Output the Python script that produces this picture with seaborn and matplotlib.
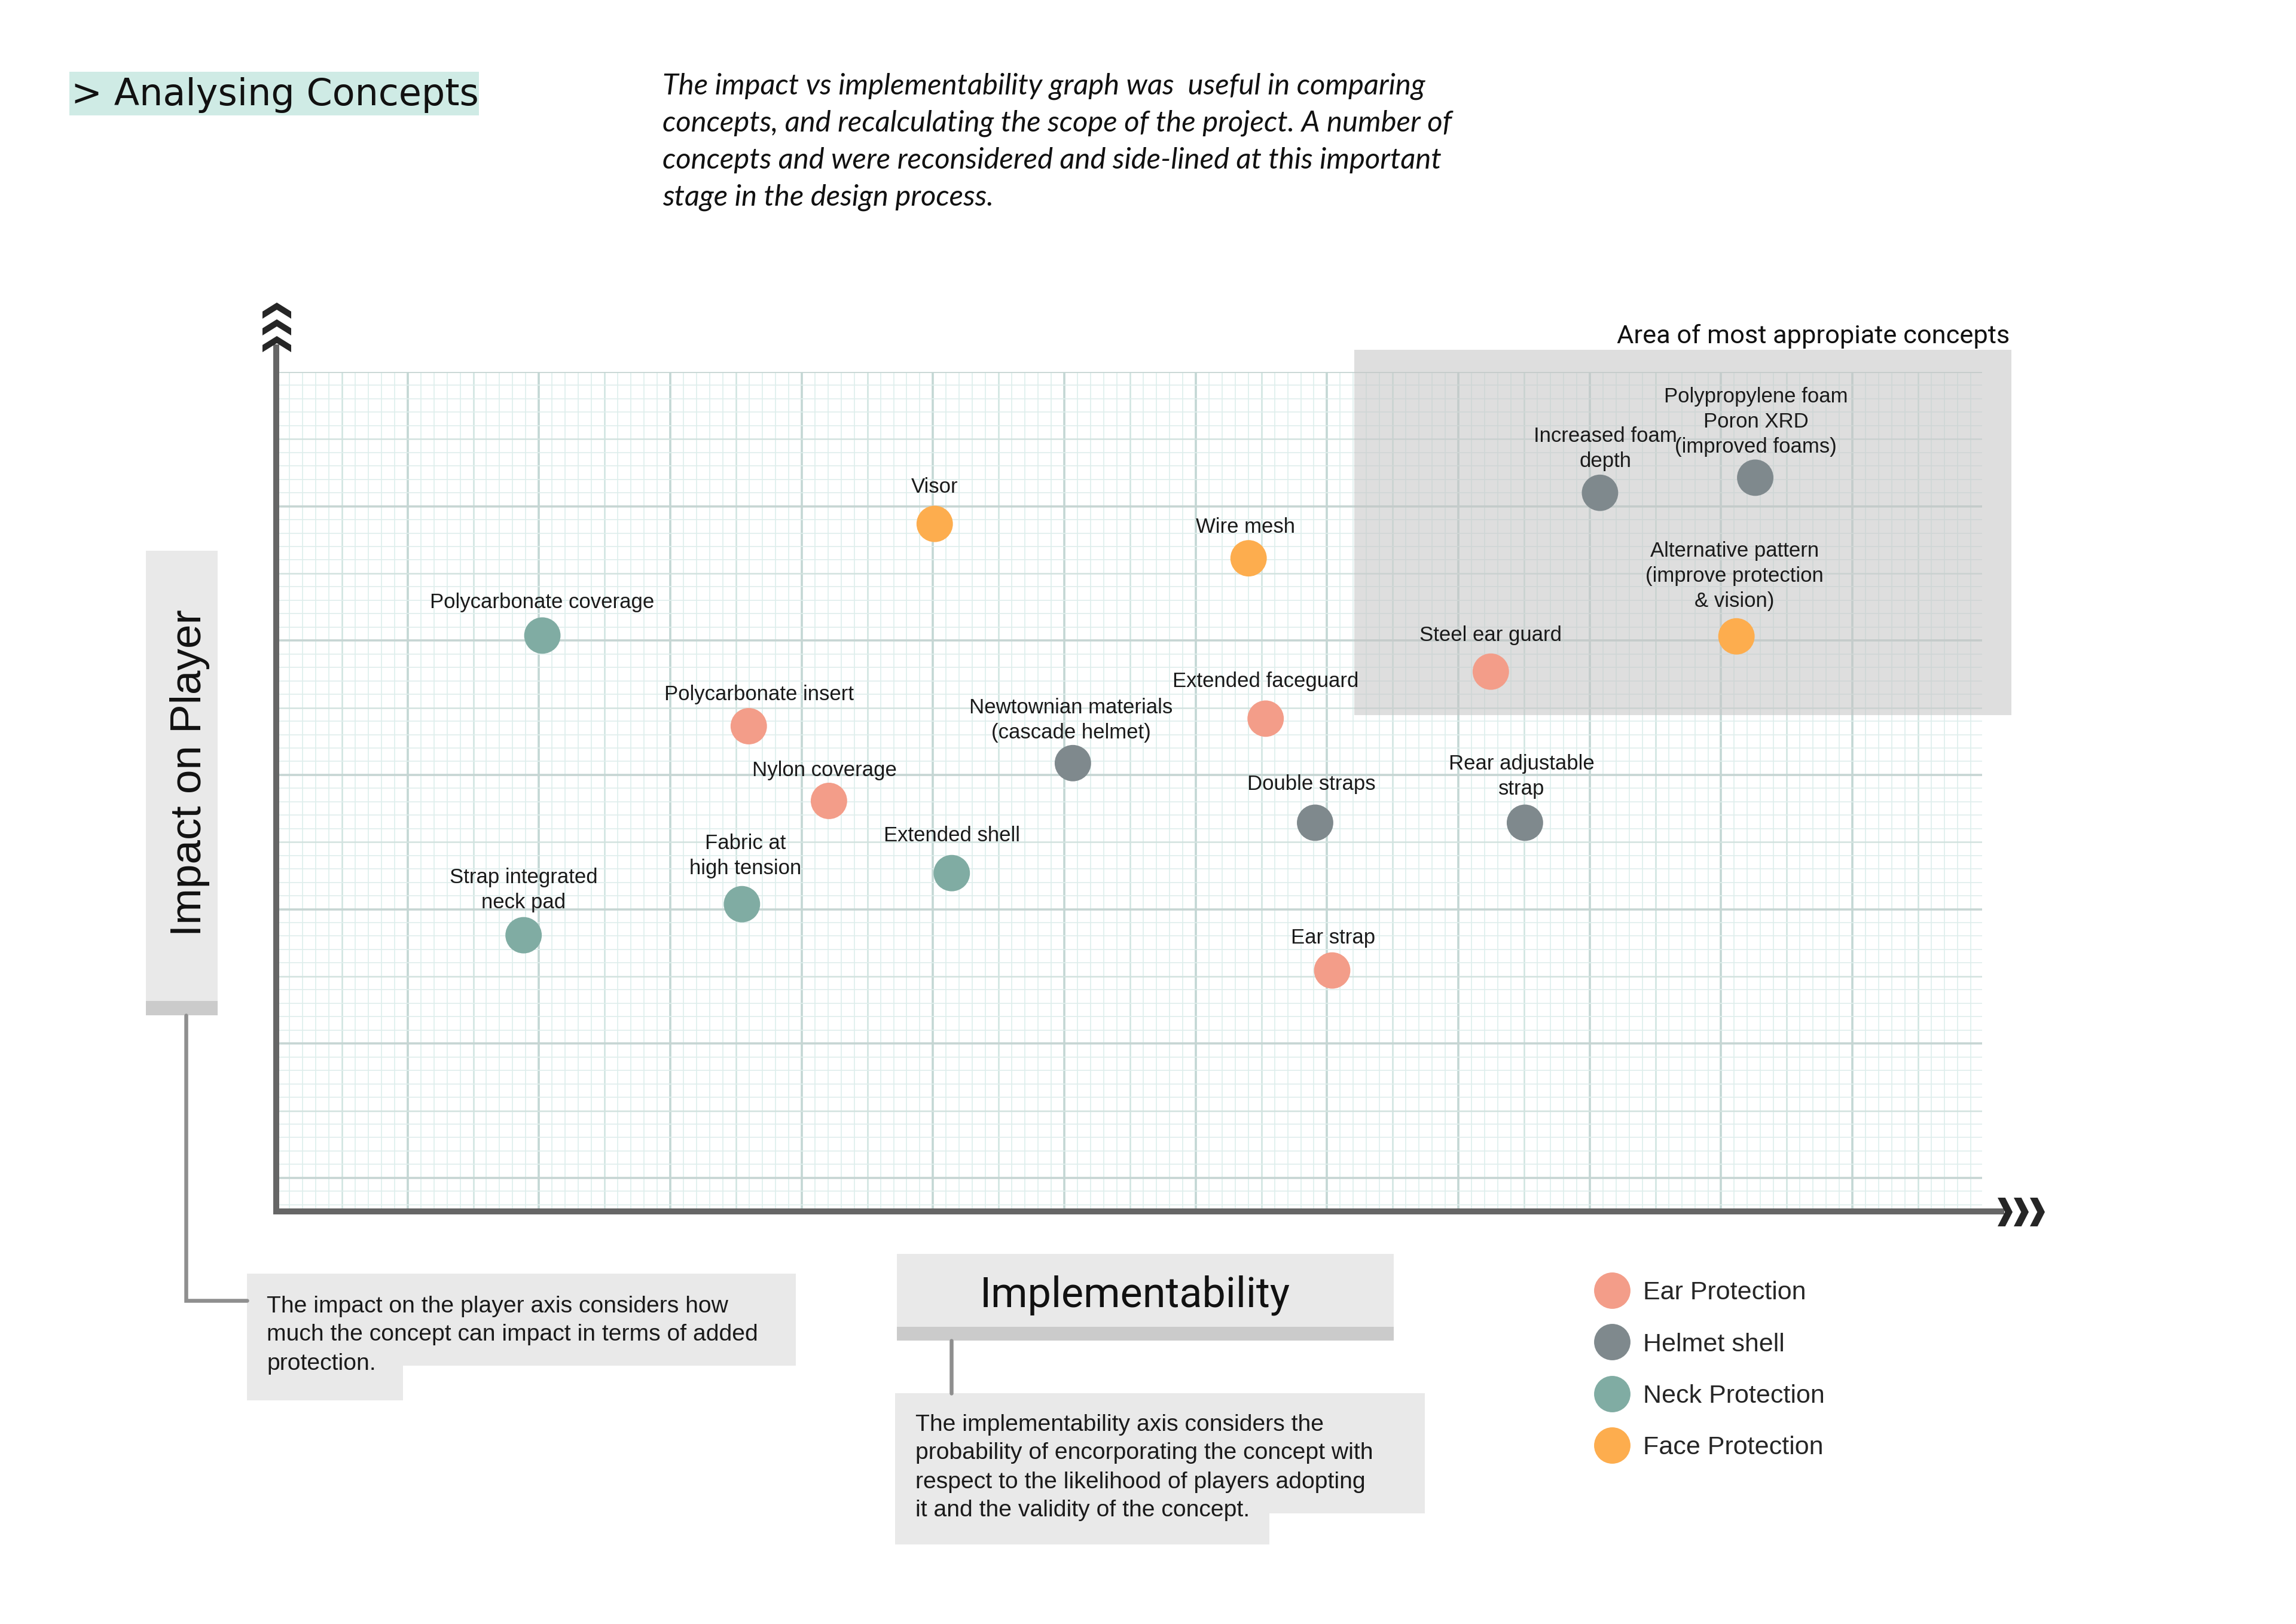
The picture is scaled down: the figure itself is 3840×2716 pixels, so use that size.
import matplotlib
matplotlib.use("Agg")
import matplotlib.pyplot as plt
import numpy as np
import pandas as pd
import seaborn as sns
from matplotlib import font_manager
from matplotlib.patches import Rectangle

# Concepts: implementability (x) vs impact on player (y), both on a 0-100 scale
concepts = [
    "Visor",
    "Wire mesh",
    "Alternative pattern\n(improve protection\n& vision)",
    "Polycarbonate coverage",
    "Strap integrated\nneck pad",
    "Fabric at\nhigh tension",
    "Extended shell",
    "Polycarbonate insert",
    "Nylon coverage",
    "Extended faceguard",
    "Steel ear guard",
    "Ear strap",
    "Newtownian materials\n(cascade helmet)",
    "Double straps",
    "Rear adjustable\nstrap",
    "Increased foam\ndepth",
    "Polypropylene foam\nPoron XRD\n(improved foams)",
]
category = [
    "Face Protection", "Face Protection", "Face Protection",
    "Neck Protection", "Neck Protection", "Neck Protection", "Neck Protection",
    "Ear Protection", "Ear Protection", "Ear Protection", "Ear Protection", "Ear Protection",
    "Helmet shell", "Helmet shell", "Helmet shell", "Helmet shell", "Helmet shell",
]
implementability = [38.6, 57.0, 85.6, 15.6, 14.5, 27.3, 39.6, 27.7, 32.4, 58.0,
                    71.2, 61.9, 46.7, 60.9, 73.2, 77.6, 86.7]
impact = [81.9, 77.8, 68.5, 68.6, 32.9, 36.6, 40.3, 57.8, 48.9, 58.7,
          64.3, 28.7, 53.4, 46.3, 46.3, 85.6, 87.4]

CATEGORIES = ["Ear Protection", "Helmet shell", "Neck Protection", "Face Protection"]
PALETTE = {"Ear Protection": "#f39d89", "Helmet shell": "#7f898d",
           "Neck Protection": "#80aca3", "Face Protection": "#fdad4e"}

# label nudges in output pixels: (dx, baseline gap above the dot)
LABEL_NUDGE = {
    "Visor": (0, 52), "Wire mesh": (-5, 43), "Polycarbonate insert": (17, 43),
    "Nylon coverage": (-7, 41), "Newtownian materials\n(cascade helmet)": (-3, 41),
    "Extended faceguard": (0, 53), "Double straps": (-6, 55), "Extended shell": (0, 53),
    "Fabric at\nhigh tension": (6, 50), "Strap integrated\nneck pad": (0, 45),
    "Polycarbonate coverage": (0, 46), "Increased foam\ndepth": (9, 43),
    "Polypropylene foam\nPoron XRD\n(improved foams)": (1, 42),
    "Alternative pattern\n(improve protection\n& vision)": (-3, 49),
    "Steel ear guard": (0, 51), "Rear adjustable\nstrap": (-6, 47), "Ear strap": (2, 45),
}

title_text = "> Analysing Concepts"
intro_lines = [
    "The impact vs implementability graph was  useful in comparing",
    "concepts, and recalculating the scope of the project. A number of",
    "concepts and were reconsidered and side-lined at this important",
    "stage in the design process.",
]
impact_note = [
    "The impact on the player axis considers how",
    "much the concept can impact in terms of added",
    "protection.",
]
impl_note = [
    "The implementability axis considers the",
    "probability of encorporating the concept with",
    "respect to the likelihood of players adopting",
    "it and the validity of the concept.",
]

DPI = 200
PX = 72 / DPI  # points per output pixel

sns.set_theme(style="white")
names = {f.name for f in font_manager.fontManager.ttflist}
NARROW = "Liberation Sans Narrow" if "Liberation Sans Narrow" in names else "Liberation Sans"
plt.rcParams["font.family"] = ["Liberation Sans", "DejaVu Sans"]

fig = plt.figure(figsize=(3840 / DPI, 2716 / DPI), dpi=DPI)
renderer = fig.canvas.get_renderer()

# main chart axes (graph paper area)
ax = fig.add_axes([462 / 3840, 1 - 2026 / 2716, 2853 / 3840, 1404 / 2716])
ax.set_xlim(0, 100)
ax.set_ylim(0, 100)
ax.set_axis_off()

# graph paper grid
gx = np.arange(131) * 0.77
gy = 100 - np.arange(63) * 1.6
for k, xv in enumerate(gx):
    if k % 10 == 0:
        c, w = "#c3d7d4", 1.3
    elif k % 5 == 0:
        c, w = "#cfe4e0", 0.9
    else:
        c, w = "#ddefec", 0.6
    ax.vlines(xv, 0, 100, color=c, lw=w, zorder=0.5)
for k, yv in enumerate(gy):
    if k % 10 == 0:
        c, w = "#c6d5d3", 1.3
    elif k % 5 == 0:
        c, w = "#d2e2df", 0.9
    else:
        c, w = "#dfeeec", 0.6
    ax.hlines(yv, 0, 100.1, color=c, lw=w, zorder=0.5)

# area of most appropriate concepts
ax.add_patch(Rectangle((63.2, 59.1), 38.5, 43.5, facecolor="#c4c4c4", alpha=0.55,
                       lw=0, clip_on=False, zorder=1))

# axis lines
ax.plot([0, 0, 101.3], [103.3, 0, 0], color="#666666", lw=10 * PX,
        solid_joinstyle="miter", solid_capstyle="butt", clip_on=False, zorder=2)

df = pd.DataFrame({"concept": concepts, "category": category,
                   "implementability": implementability, "impact": impact})
sns.scatterplot(data=df, x="implementability", y="impact", hue="category",
                hue_order=CATEGORIES, palette=PALETTE, s=480, linewidth=0,
                alpha=1, ax=ax, zorder=3)

for _, row in df.iterrows():
    dx, gap = LABEL_NUDGE.get(row["concept"], (0, 47))
    lines = row["concept"].split("\n")
    for j, line in enumerate(lines):
        dy = gap + (len(lines) - 1 - j) * 42
        ax.annotate(line, (row["implementability"], row["impact"]),
                    xytext=(dx * PX, dy * PX), textcoords="offset points",
                    ha="center", va="baseline", fontsize=12.5, color="#1a1a1a",
                    zorder=4)

sns.move_legend(ax, "upper left", bbox_to_anchor=(2674 / 3840, 1 - 2142 / 2716),
                bbox_transform=fig.transFigure, frameon=False, title=None,
                fontsize=15.5, handlelength=1.0, handletextpad=0.71,
                labelspacing=1.08, borderpad=0, borderaxespad=0)

# overlay in output-pixel coordinates for the page furniture
lay = fig.add_axes([0, 0, 1, 1], zorder=2)
lay.set_xlim(0, 3840)
lay.set_ylim(2716, 0)
lay.set_axis_off()


def box(x0, y0, x1, y1, color="#e9e9e9"):
    lay.add_patch(Rectangle((x0, y0), x1 - x0, y1 - y0, facecolor=color, lw=0))


def fit(texts, target, ref=0, vertical=False):
    bb = texts[ref].get_window_extent(renderer)
    size = bb.height if vertical else bb.width
    for t in texts:
        t.set_fontsize(t.get_fontsize() * target / size)


# title
box(116, 120, 801, 193, "#cfebe5")
title = lay.text(119, 176, title_text, family="DejaVu Sans", fontsize=22,
                 va="baseline", ha="left", color="#111111")
fit([title], 682)

# intro paragraph
intro = [lay.text(1108, b, line, family="Lato", style="italic", fontsize=16,
                  va="baseline", ha="left", color="#111111")
         for line, b in zip(intro_lines, [157.5, 219.7, 282, 344])]
fit(intro, 1321, ref=1)

area = lay.text(3361, 574, "Area of most appropiate concepts", family="Roboto",
                fontsize=15.5, ha="right", va="baseline", color="#111111")
fit([area], 657)

# y axis label box
box(244, 921, 364, 1674)
box(244, 1674, 364, 1698, "#cbcbcb")
ylab = lay.text(336, 1293, "Impact on Player", rotation=90, rotation_mode="anchor",
                ha="center", va="baseline", family=NARROW, fontsize=30,
                color="#111111")
fit([ylab], 547, vertical=True)

# x axis label box
box(1500, 2097, 2331, 2219)
box(1500, 2219, 2331, 2242, "#cbcbcb")
impl = lay.text(1898, 2186, "Implementability", family="Roboto", fontsize=25,
                ha="center", va="baseline", color="#111111")
fit([impl], 520)

# connectors
lay.plot([311, 311, 413], [1698, 2175, 2175], color="#8f8f8f", lw=6.5 * PX,
         solid_joinstyle="miter")
lay.plot([1591, 1591], [2242, 2330], color="#8f8f8f", lw=6.5 * PX)

# note boxes
box(413, 2130, 1331, 2284)
box(413, 2284, 674, 2342)
for line, b in zip(impact_note, [2195, 2242, 2291]):
    lay.text(446, b, line, fontsize=14.1, va="baseline", ha="left", color="#1a1a1a")

box(1497, 2330, 2383, 2531)
box(1497, 2531, 2123, 2583)
for line, b in zip(impl_note, [2393, 2440, 2489, 2536]):
    lay.text(1531, b, line, fontsize=14.1, va="baseline", ha="left", color="#1a1a1a")


# arrow heads (chevrons)
def chevron_up(cx, t):
    return [(cx, t), (cx + 24, t + 15), (cx + 24, t + 27), (cx, t + 12),
            (cx - 24, t + 27), (cx - 24, t + 15)]


def chevron_right(x0, c):
    return [(x0, c - 24), (x0 + 12.7, c - 24), (x0 + 25, c), (x0 + 12.7, c + 24),
            (x0, c + 24), (x0 + 12.3, c)]


for t in (506, 534, 562):
    xs, ys = zip(*chevron_up(463, t))
    lay.fill(xs, ys, color="#262626", lw=0)
for x0 in (3341, 3368, 3395):
    xs, ys = zip(*chevron_right(x0, 2027))
    lay.fill(xs, ys, color="#262626", lw=0)

fig.savefig("out.png", dpi=DPI)
